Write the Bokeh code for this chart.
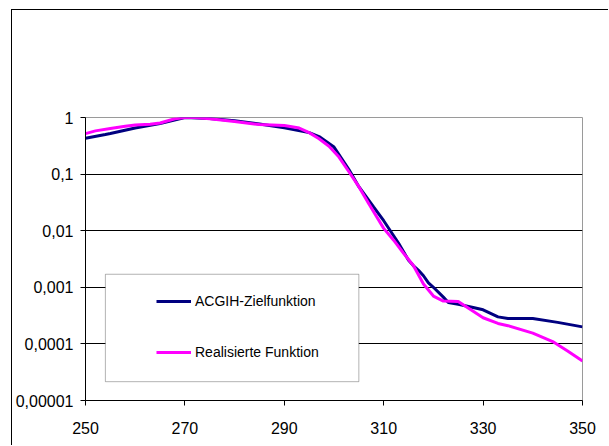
from bokeh.plotting import figure
from bokeh.models import (Range1d, FixedTicker, CustomJSTickFormatter, Legend,
                          LegendItem, BoxAnnotation)
from bokeh.embed import file_html
from bokeh.resources import INLINE

# ---- data ----
wl_acgih = [250, 254, 255, 260, 265, 270, 275, 280, 285, 290, 295, 297, 300,
            303, 305, 308, 310, 313, 315, 316, 317, 318, 319, 320, 322, 323,
            325, 328, 330, 333, 335, 340, 345, 350]
s_acgih = [0.43, 0.50, 0.52, 0.65, 0.78, 1.0, 0.96, 0.88, 0.77, 0.66, 0.54,
           0.46, 0.30, 0.12, 0.06, 0.026, 0.015, 0.006, 0.003, 0.0024, 0.0020,
           0.0016, 0.0012, 0.0010, 0.00067, 0.00054, 0.00050, 0.00044,
           0.00040, 0.00030, 0.00028, 0.00028, 0.00024, 0.00020]

wl_real = [250, 252, 255, 258, 260, 263, 265, 268, 270, 272, 275, 280, 285,
           290, 293, 295, 297, 299, 301, 303, 305, 307, 310, 312, 314, 316,
           318, 320, 322, 325, 327, 330, 333, 335, 340, 344, 347, 350]
s_real = [0.52, 0.58, 0.64, 0.70, 0.74, 0.76, 0.80, 0.95, 1.0, 1.0, 0.95,
          0.85, 0.75, 0.72, 0.65, 0.54, 0.42, 0.31, 0.20, 0.11, 0.06, 0.03,
          0.011, 0.0068, 0.004, 0.0024, 0.00114, 0.0007, 0.00057, 0.00056,
          0.00043, 0.00029, 0.00023, 0.00021, 0.000155, 0.00011, 0.000075,
          0.00005]

x_ticks = [250, 270, 290, 310, 330, 350]
y_ticks = [0.00001, 0.0001, 0.001, 0.01, 0.1, 1]
series_labels = ["ACGIH-Zielfunktion", "Realisierte Funktion"]
series_colors = ["#000080", "#FF00FF"]

FONT = "Liberation Sans"

p = figure(width=597, height=436,
           x_range=Range1d(250, 350), y_range=Range1d(0.00001, 1),
           y_axis_type="log", output_backend="svg", toolbar_location=None,
           min_border_left=70, min_border_right=27,
           min_border_top=107, min_border_bottom=46)
p.styles = {"margin-left": "11px", "margin-top": "9px",
            "border-left": "1px solid black", "border-top": "1px solid black"}

p.background_fill_color = "white"
p.border_fill_color = "white"
p.outline_line_color = "#9a9a9a"
p.outline_line_width = 1

p.xgrid.visible = False
p.ygrid.ticker = FixedTicker(ticks=y_ticks[1:-1])
p.ygrid.grid_line_color = "black"
p.ygrid.grid_line_width = 1

p.xaxis.ticker = FixedTicker(ticks=x_ticks)
p.yaxis.ticker = FixedTicker(ticks=y_ticks)
p.yaxis.formatter = CustomJSTickFormatter(code="return String(tick).replace('.', ',');")

for ax in (p.xaxis[0], p.yaxis[0]):
    ax.axis_line_color = "black"
    ax.major_tick_line_color = "black"
    ax.major_tick_out = 5
    ax.major_tick_in = 0
    ax.minor_tick_out = 0
    ax.minor_tick_in = 0
    ax.major_label_text_color = "black"
    ax.major_label_text_font = FONT

p.xaxis.major_label_text_font_size = "16px"
p.xaxis.major_label_standoff = 16
p.yaxis.major_label_text_font_size = "16px"
p.yaxis.major_label_standoff = 7

r1 = p.line(wl_acgih, s_acgih, line_color=series_colors[0], line_width=3)
r2 = p.line(wl_real, s_real, line_color=series_colors[1], line_width=3)

box = BoxAnnotation(left=254, right=305, top=0.0017, bottom=0.0000215,
                    fill_color="white", fill_alpha=1.0,
                    line_color="black", line_width=1)
p.add_layout(box)

legend = Legend(items=[LegendItem(label=series_labels[0], renderers=[r1]),
                       LegendItem(label=series_labels[1], renderers=[r2])],
                location=(71, 38), padding=0, margin=0, spacing=31,
                glyph_width=35, glyph_height=20, label_height=20,
                label_standoff=4,
                border_line_color=None, background_fill_alpha=0.0,
                label_text_font=FONT, label_text_font_size="14px",
                label_text_color="black")
p.add_layout(legend)

open("out.html", "w").write(file_html(p, INLINE))
